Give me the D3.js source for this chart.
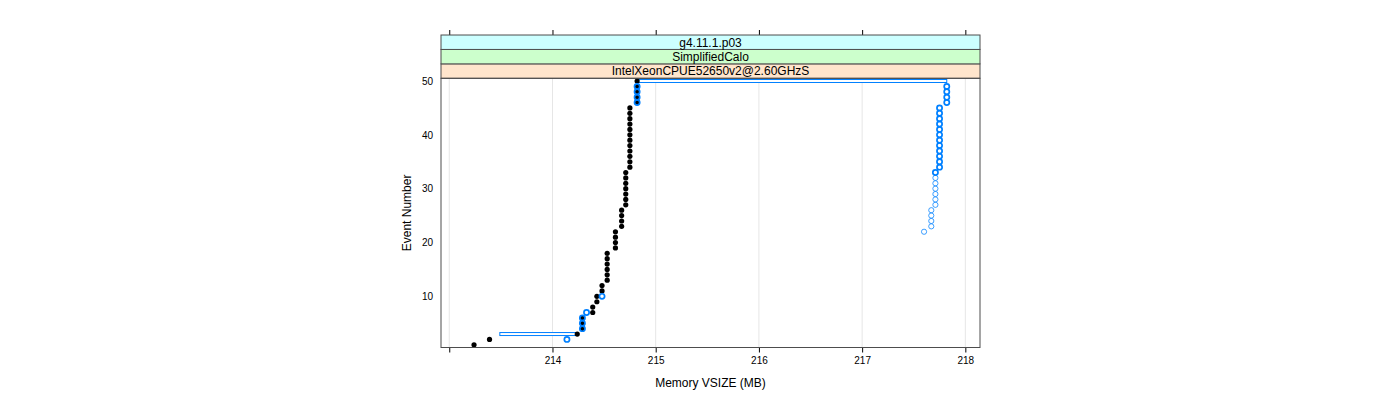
<!DOCTYPE html>
<html>
<head>
<meta charset="utf-8">
<script src="https://cdn.jsdelivr.net/npm/d3@7"></script>
<style>
  html, body { margin: 0; padding: 0; background: #fff; }
  svg { display: block; font-family: "Liberation Sans", Arial, Helvetica, sans-serif; }
</style>
</head>
<body>
<svg id="chart" width="1400" height="400"></svg>
<script>
// ---- data ----
const stripLabels = ["IntelXeonCPUE52650v2@2.60GHzS", "SimplifiedCalo", "g4.11.1.p03"];
const xTicks = [213, 214, 215, 216, 217, 218];
const xTickLabels = ["", "214", "215", "216", "217", "218"];
const yTicks = [10, 20, 30, 40, 50];
const xTitle = "Memory VSIZE (MB)";
const yTitle = "Event Number";

// black series: event number -> memory (MB)
const blackEvents = [1,2,3,4,5,6,7,8,9,10,11,12,13,14,15,16,17,18,19,20,21,22,23,24,25,26,27,28,29,30,31,32,33,34,35,36,37,38,39,40,41,42,43,44,45,46,47,48,49,50];
const blackValues = [213.24,213.39,214.24,214.29,214.29,214.29,214.39,214.39,214.43,214.43,214.48,214.48,
  214.53,214.53,214.53,214.53,214.53,214.53,214.61,214.61,214.61,214.61,214.67,214.67,214.67,214.67,
  214.71,214.71,214.71,214.71,214.71,214.71,214.71,
  214.75,214.75,214.75,214.75,214.75,214.75,214.75,214.75,214.75,214.75,214.75,214.75,
  214.82,214.82,214.82,214.82,214.82];

// blue series (main)
const blueEvents = [2,4,5,6,7,10,46,47,48,49, 33,34,35,36,37,38,39,40,41,42,43,44,45,46,47,48,49];
const blueValues = [214.14,214.29,214.29,214.29,214.33,214.48,214.82,214.82,214.82,214.82,
  217.71,217.75,217.75,217.75,217.75,217.75,217.75,217.75,217.75,217.75,217.75,217.75,217.75,
  217.82,217.82,217.82,217.82];

// blue series (faint)
const faintEvents = [22,23,24,25,26,27,28,29,30,31,32];
const faintValues = [217.60,217.67,217.67,217.67,217.67,217.71,217.71,217.71,217.71,217.71,217.71];

// outlined ranges
const spanEvents = [3, 50];
const spanFrom = [213.49, 214.82];
const spanTo = [214.24, 217.82];

// ---- layout ----
const svg = d3.select("#chart");
const L = 441, R = 980, T = 78.3, B = 347.5;
const stripH = 14.43;

const x = d3.scaleLinear().domain([212.92, 218.142]).range([L, R]);
const y = d3.scaleLinear().domain([0.5, 50.5]).range([B, T]);

// grid
svg.append("g").selectAll("line").data(xTicks).join("line")
  .attr("x1", d => x(d)).attr("x2", d => x(d))
  .attr("y1", T).attr("y2", B)
  .attr("stroke", "#e6e6e6").attr("stroke-width", 1);

// bottom axis
const xAxis = d3.axisBottom(x).tickValues(xTicks).tickSize(5).tickPadding(4)
  .tickFormat((d, i) => xTickLabels[i]);
const gx = svg.append("g").attr("transform", `translate(0,${B})`).call(xAxis);
gx.select(".domain").remove();
gx.selectAll("line").attr("stroke", "#000");
gx.selectAll("text").attr("font-size", 10).attr("font-family", "Liberation Sans, Arial, sans-serif").attr("fill", "#000");

// top axis ticks (no labels)
const topY = T - 3 * stripH;
const xAxisTop = d3.axisTop(x).tickValues(xTicks).tickSize(5).tickFormat("");
const gt = svg.append("g").attr("transform", `translate(0,${topY})`).call(xAxisTop);
gt.select(".domain").remove();
gt.selectAll("line").attr("stroke", "#000");

// left axis labels
const yAxis = d3.axisLeft(y).tickValues(yTicks).tickSize(0).tickPadding(8);
const gy = svg.append("g").attr("transform", `translate(${L},0)`).call(yAxis);
gy.select(".domain").remove();
gy.selectAll("text").attr("font-size", 10).attr("font-family", "Liberation Sans, Arial, sans-serif").attr("fill", "#000");

// strips
const stripColors = ["#ffe5cc", "#ccffcc", "#ccffff"];
stripLabels.forEach((lab, i) => {
  const yy = T - (i + 1) * stripH;
  svg.append("rect").attr("x", L).attr("y", yy).attr("width", R - L).attr("height", stripH)
    .attr("fill", stripColors[i]).attr("stroke", "#4d4d4d").attr("stroke-width", 1);
  svg.append("text").attr("x", (L + R) / 2).attr("y", yy + stripH / 2 + 4.3)
    .attr("text-anchor", "middle").attr("font-size", 12).attr("fill", "#000").text(lab);
});

// spans (outlined)
const spans = spanEvents.map((e, i) => ({ e, a: spanFrom[i], b: spanTo[i] }));
svg.append("g").selectAll("rect").data(spans).join("rect")
  .attr("x", d => x(d.a)).attr("y", d => y(d.e) - 1.5)
  .attr("width", d => x(d.b) - x(d.a)).attr("height", 3)
  .attr("fill", "#fff").attr("stroke", "#0080ff").attr("stroke-width", 1);

// black points
svg.append("g").selectAll("circle").data(blackEvents.map((e, i) => ({ e, v: blackValues[i] })))
  .join("circle").attr("cx", d => x(d.v)).attr("cy", d => y(d.e)).attr("r", 2.6).attr("fill", "#000");

// faint blue
svg.append("g").selectAll("circle").data(faintEvents.map((e, i) => ({ e, v: faintValues[i] })))
  .join("circle").attr("cx", d => x(d.v)).attr("cy", d => y(d.e)).attr("r", 2.6)
  .attr("fill", "none").attr("stroke", "#0080ff").attr("stroke-opacity", 0.75).attr("stroke-width", 1);

// blue
svg.append("g").selectAll("circle").data(blueEvents.map((e, i) => ({ e, v: blueValues[i] })))
  .join("circle").attr("cx", d => x(d.v)).attr("cy", d => y(d.e)).attr("r", 2.6)
  .attr("fill", "none").attr("stroke", "#0080ff").attr("stroke-width", 1.7);

// panel border
svg.append("rect").attr("x", L).attr("y", T).attr("width", R - L).attr("height", B - T)
  .attr("fill", "none").attr("stroke", "#4d4d4d").attr("stroke-width", 1);

// titles
svg.append("text").attr("x", (L + R) / 2).attr("y", 387).attr("text-anchor", "middle")
  .attr("font-size", 12).attr("fill", "#000").text(xTitle);
svg.append("text").attr("transform", `translate(411,${(T + B) / 2}) rotate(-90)`)
  .attr("text-anchor", "middle").attr("font-size", 12).attr("fill", "#000").text(yTitle);
</script>
</body>
</html>
